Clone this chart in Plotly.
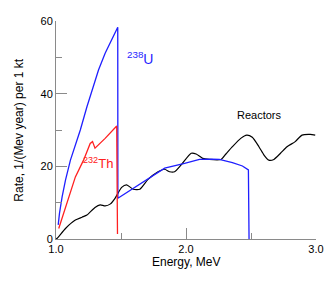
import plotly.graph_objects as go

# U-238 geoneutrino spectrum
u_e = [1.017, 1.027, 1.047, 1.073, 1.111, 1.187, 1.238, 1.276, 1.327, 1.378, 1.475, 1.476, 1.65, 1.836, 1.989, 2.104, 2.20, 2.256, 2.357, 2.434, 2.48, 2.485]
u_v = [3.9, 7.1, 11.6, 16.2, 21.7, 30.0, 36.4, 41.0, 46.5, 51.1, 58.3, 11.2, 15.2, 19.5, 20.8, 21.9, 22.0, 21.9, 21.0, 20.1, 19.0, 0.0]

# Th-232 geoneutrino spectrum
th_e = [1.021, 1.073, 1.149, 1.212, 1.263, 1.281, 1.300, 1.378, 1.441, 1.467, 1.473]
th_v = [2.9, 8.9, 17.1, 21.7, 26.3, 26.8, 25.0, 27.7, 30.0, 31.1, 1.4]

# Reactor antineutrino spectrum
re_e = [1.00, 1.009, 1.073, 1.149, 1.20, 1.238, 1.30, 1.34, 1.378, 1.416, 1.454, 1.505, 1.543, 1.594, 1.645, 1.708, 1.785, 1.836, 1.874, 1.912, 1.963, 2.04, 2.078, 2.128, 2.18, 2.269, 2.307, 2.357, 2.421, 2.467, 2.51, 2.561, 2.60, 2.637, 2.676, 2.727, 2.777, 2.84, 2.892, 2.956, 2.994]
re_v = [0.0, 0.2, 2.9, 5.2, 6.0, 6.6, 8.7, 9.4, 9.1, 9.6, 11.2, 14.2, 14.9, 13.7, 13.7, 16.4, 18.5, 19.2, 18.5, 18.5, 20.4, 23.6, 23.4, 22.2, 21.9, 21.9, 23.4, 25.4, 27.7, 28.6, 28.0, 25.4, 23.1, 21.7, 21.9, 23.6, 25.4, 26.8, 28.6, 28.8, 28.6]

BLUE = "#1f1fff"
RED = "#ff2020"
GRAY = "#8a8a8a"
FONT = "Liberation Sans, Arial, sans-serif"

L, R, T, B = 55.5, 14.5, 21, 42
W, H = 331, 281
PW, PH = W - L - R, H - T - B

def px(xp):
    return (xp - L) / PW

def py(yp):
    return (H - B - yp) / PH

fig = go.Figure()
fig.add_trace(go.Scatter(x=re_e, y=re_v, mode="lines", line=dict(color="black", width=1.2, shape="spline", smoothing=0.6), showlegend=False))
fig.add_trace(go.Scatter(x=u_e, y=u_v, mode="lines", line=dict(color=BLUE, width=1.3), showlegend=False))
fig.add_trace(go.Scatter(x=th_e, y=th_v, mode="lines", line=dict(color=RED, width=1.3), showlegend=False))

fig.update_layout(
    width=W, height=H,
    margin=dict(l=L, r=R, t=T, b=B),
    paper_bgcolor="white", plot_bgcolor="white",
    font=dict(family=FONT, size=11, color="black"),
    xaxis=dict(range=[1.0, 3.0], tick0=1, dtick=1, tickformat=".1f", ticks="inside", ticklen=11,
               tickcolor=GRAY, showline=True, linecolor=GRAY, linewidth=1, showgrid=False, zeroline=False,
               automargin=False,
               minor=dict(ticks="inside", ticklen=6, dtick=0.5, tickcolor=GRAY, showgrid=False)),
    yaxis=dict(range=[0, 60], tick0=0, dtick=20, ticks="inside", ticklen=11,
               tickcolor=GRAY, showline=True, linecolor=GRAY, linewidth=1, showgrid=False, zeroline=False,
               automargin=False,
               minor=dict(ticks="inside", ticklen=6, dtick=10, tickcolor=GRAY, showgrid=False)),
    annotations=[
        dict(x=1.649, y=49.8, xref="x", yref="y", text="<sup>238</sup>U", showarrow=False,
             font=dict(color=BLUE, size=14, family=FONT)),
        dict(x=1.325, y=20.9, xref="x", yref="y", text="<sup>232</sup>Th", showarrow=False,
             font=dict(color=RED, size=13, family=FONT)),
        dict(x=2.567, y=34.1, xref="x", yref="y", text="Reactors", showarrow=False,
             font=dict(color="black", size=11, family=FONT)),
        dict(x=px(185.5), y=py(262), xref="paper", yref="paper", text="Energy, MeV", showarrow=False,
             xanchor="center", yanchor="middle", font=dict(size=12, family=FONT)),
        dict(x=px(18), y=py(130), xref="paper", yref="paper", text="Rate, 1/(Mev year) per 1 kt", showarrow=False,
             textangle=-90, xanchor="center", yanchor="middle", font=dict(size=12, family=FONT)),
    ],
)

fig.write_html("out.html", config={"displayModeBar": False},
               post_script="document.body.style.margin='0';")
